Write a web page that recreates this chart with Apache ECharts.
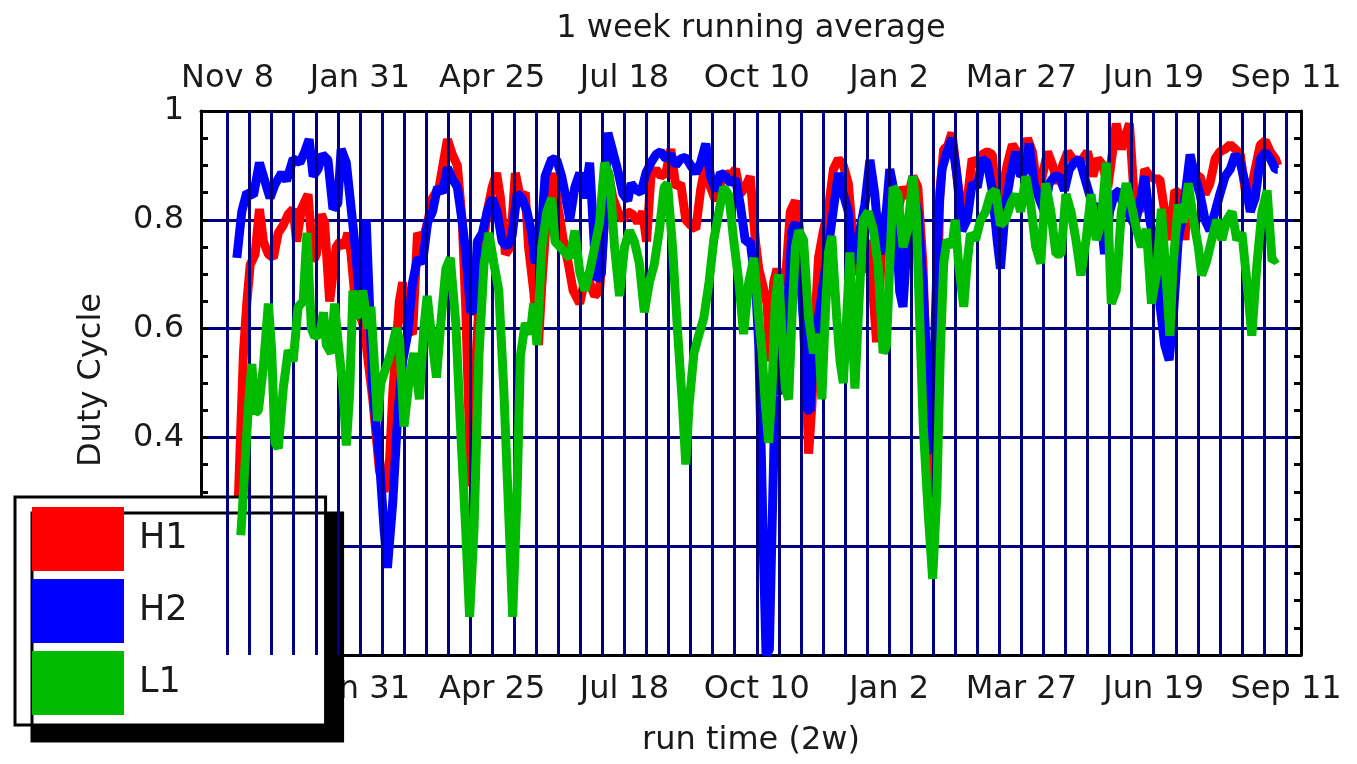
<!DOCTYPE html>
<html>
<head>
<meta charset="utf-8">
<script src="https://cdn.jsdelivr.net/npm/echarts@6/dist/echarts.min.js"></script>
<style>
  html, body { margin: 0; padding: 0; background: #fff; }
  #main { width: 1357px; height: 764px; }
</style>
</head>
<body>
<div id="main"></div>
<script>
// run time in weeks from Nov 8, duty cycle 0..1
const tickWeeks = [0, 12, 24, 36, 48, 60, 72, 84, 96];
const tickLabels = ['Nov 8', 'Jan 31', 'Apr 25', 'Jul 18', 'Oct 10', 'Jan 2', 'Mar 27', 'Jun 19', 'Sep 11'];
const gridWeeks = [0, 2, 4, 6, 8, 10, 12, 14, 16, 18, 20, 22, 24, 26, 28, 30, 32, 34, 36, 38, 40, 42, 44, 46, 48,
    50, 52, 54, 56, 58, 60, 62, 64, 66, 68, 70, 72, 74, 76, 78, 80, 82, 84, 86, 88, 90, 92, 94, 96];

const h1Points = [
    [0.8, 0.22], [1.0, 0.3], [1.44, 0.555], [1.74, 0.646], [2.05, 0.717], [2.5, 0.737], [2.89, 0.82], [3.25, 0.76],
    [3.7, 0.737], [4.15, 0.73], [4.6, 0.776], [5.05, 0.79], [5.5, 0.81], [5.95, 0.82], [6.26, 0.76], [6.7, 0.82],
    [7.3, 0.847], [7.76, 0.724], [8.06, 0.737], [8.5, 0.81], [8.8, 0.795], [9.26, 0.65], [9.56, 0.7], [9.86, 0.75],
    [10.17, 0.76], [10.6, 0.75], [10.9, 0.776], [11.2, 0.737], [11.67, 0.63], [12.1, 0.62], [12.4, 0.6], [13.17, 0.47],
    [13.77, 0.34], [14.2, 0.3], [14.7, 0.36], [14.98, 0.48], [15.58, 0.65], [15.88, 0.685], [16.33, 0.6], [16.78, 0.59],
    [17.23, 0.776], [17.68, 0.76], [18.14, 0.795], [18.59, 0.84], [19.19, 0.86], [19.94, 0.948], [20.39, 0.92], [20.84, 0.9],
    [21.29, 0.795], [21.6, 0.64], [21.9, 0.43], [22.05, 0.31], [22.26, 0.43], [22.65, 0.59], [23.1, 0.74], [23.55, 0.815],
    [24.0, 0.86], [24.4, 0.886], [24.75, 0.84], [25.2, 0.737], [25.65, 0.75], [26.1, 0.886], [26.56, 0.84], [27.0, 0.85],
    [27.3, 0.75], [27.76, 0.67], [28.2, 0.57], [28.5, 0.68], [28.96, 0.815], [29.56, 0.886], [30.0, 0.82], [30.47, 0.76],
    [30.9, 0.72], [31.34, 0.67], [31.94, 0.646], [32.4, 0.69], [32.84, 0.685], [33.3, 0.66], [33.74, 0.67], [34.05, 0.76],
    [34.5, 0.89], [34.95, 0.84], [35.4, 0.815], [35.85, 0.8], [36.3, 0.815], [36.75, 0.81], [37.2, 0.795], [37.65, 0.815],
    [38.0, 0.76], [38.4, 0.88], [38.86, 0.893], [39.3, 0.88], [39.76, 0.886], [40.2, 0.93], [40.66, 0.86], [41.1, 0.867],
    [41.56, 0.8], [42.0, 0.79], [42.47, 0.783], [42.9, 0.854], [43.37, 0.905], [43.8, 0.86], [44.27, 0.835], [44.7, 0.867],
    [45.17, 0.886], [45.6, 0.88], [46.07, 0.893], [46.5, 0.848], [46.97, 0.86], [47.4, 0.88], [47.88, 0.76], [48.18, 0.71],
    [48.48, 0.685], [48.93, 0.646], [49.23, 0.54], [49.53, 0.685], [49.83, 0.71], [50.14, 0.685], [50.59, 0.685], [51.04, 0.815],
    [51.5, 0.835], [51.8, 0.795], [52.1, 0.737], [52.4, 0.555], [52.7, 0.37], [53.0, 0.46], [53.3, 0.62], [53.6, 0.73],
    [54.04, 0.78], [54.5, 0.82], [54.95, 0.893], [55.4, 0.912], [55.85, 0.9], [56.3, 0.867], [56.6, 0.795], [56.9, 0.737],
    [57.2, 0.7], [57.68, 0.71], [58.1, 0.763], [58.56, 0.66], [58.86, 0.575], [59.16, 0.68], [59.46, 0.8], [59.9, 0.82],
    [60.36, 0.86], [60.8, 0.815], [61.26, 0.86], [61.7, 0.84], [62.16, 0.88], [62.6, 0.86], [63.07, 0.72], [63.5, 0.45],
    [63.9, 0.29], [64.3, 0.55], [64.6, 0.85], [64.95, 0.93], [65.3, 0.935], [65.7, 0.96], [66.16, 0.88], [66.6, 0.815],
    [67.08, 0.835], [67.53, 0.912], [68.0, 0.9], [68.44, 0.92], [68.9, 0.925], [69.36, 0.92], [69.8, 0.815], [70.27, 0.854],
    [70.7, 0.9], [71.18, 0.938], [71.6, 0.925], [72.1, 0.88], [72.55, 0.95], [73.0, 0.925], [73.46, 0.854], [73.9, 0.88],
    [74.37, 0.925], [74.83, 0.9], [75.28, 0.867], [75.74, 0.9], [76.2, 0.925], [76.65, 0.912], [77.1, 0.905], [77.56, 0.912],
    [78.0, 0.925], [78.47, 0.88], [78.93, 0.912], [79.4, 0.9], [79.84, 0.86], [80.3, 0.93], [80.6, 0.977], [81.06, 0.93],
    [81.5, 0.958], [81.8, 0.977], [82.27, 0.828], [82.73, 0.815], [83.19, 0.893], [83.64, 0.88], [84.1, 0.875], [84.55, 0.875],
    [85.0, 0.815], [85.47, 0.763], [85.92, 0.854], [86.38, 0.847], [86.83, 0.763], [87.3, 0.9], [87.74, 0.88], [88.2, 0.88],
    [88.66, 0.847], [89.1, 0.867], [89.57, 0.912], [90.0, 0.925], [90.48, 0.93], [90.94, 0.938], [91.4, 0.93], [91.85, 0.92],
    [92.3, 0.854], [92.76, 0.847], [93.2, 0.893], [93.67, 0.938], [94.13, 0.945], [94.58, 0.925], [95.04, 0.912], [95.25, 0.9]
];

const h2Points = [
    [0.84, 0.73], [1.29, 0.815], [1.74, 0.85], [2.35, 0.845], [2.89, 0.905], [3.4, 0.87], [3.85, 0.84], [4.3, 0.865],
    [4.9, 0.886], [5.35, 0.872], [5.95, 0.912], [6.56, 0.905], [7.0, 0.925], [7.4, 0.948], [7.76, 0.88], [8.2, 0.893],
    [8.6, 0.92], [9.1, 0.91], [9.56, 0.82], [10.0, 0.83], [10.3, 0.93], [10.77, 0.905], [11.37, 0.79], [11.67, 0.73],
    [11.97, 0.65], [12.27, 0.7], [12.57, 0.8], [13.17, 0.49], [13.77, 0.36], [14.2, 0.23], [14.5, 0.16], [14.98, 0.28],
    [15.43, 0.44], [15.88, 0.54], [16.33, 0.59], [16.78, 0.685], [17.23, 0.73], [17.68, 0.72], [18.14, 0.795], [18.59, 0.815],
    [19.04, 0.86], [19.49, 0.85], [19.94, 0.896], [20.39, 0.875], [20.84, 0.86], [21.29, 0.795], [21.6, 0.74], [22.05, 0.63],
    [22.35, 0.635], [22.65, 0.76], [23.1, 0.775], [23.55, 0.815], [24.0, 0.84], [24.45, 0.815], [24.9, 0.76], [25.35, 0.75],
    [25.8, 0.77], [26.26, 0.848], [26.7, 0.84], [27.16, 0.815], [27.6, 0.775], [27.9, 0.72], [28.36, 0.75], [28.8, 0.88],
    [29.4, 0.912], [29.86, 0.91], [30.3, 0.88], [30.6, 0.85], [31.04, 0.8], [31.5, 0.86], [31.94, 0.886], [32.4, 0.84],
    [32.84, 0.905], [33.44, 0.69], [33.9, 0.7], [34.2, 0.81], [34.5, 0.96], [34.95, 0.925], [35.4, 0.89], [35.85, 0.848],
    [36.3, 0.835], [36.6, 0.867], [37.05, 0.855], [37.5, 0.85], [37.95, 0.886], [38.4, 0.905], [38.86, 0.92], [39.3, 0.925],
    [39.76, 0.912], [40.2, 0.92], [40.66, 0.9], [41.1, 0.912], [41.56, 0.915], [42.0, 0.9], [42.47, 0.886], [42.9, 0.905],
    [43.37, 0.94], [43.8, 0.88], [44.27, 0.853], [44.7, 0.886], [45.17, 0.88], [45.6, 0.867], [46.07, 0.875], [46.5, 0.828],
    [46.97, 0.76], [47.4, 0.76], [47.88, 0.685], [48.18, 0.57], [48.42, 0.36], [48.63, 0.166], [48.84, 0.0], [49.14, 0.01],
    [49.38, 0.23], [49.68, 0.49], [49.98, 0.48], [50.29, 0.555], [50.74, 0.62], [51.19, 0.78], [51.5, 0.795], [51.8, 0.75],
    [52.24, 0.61], [52.54, 0.45], [52.84, 0.45], [53.14, 0.555], [53.6, 0.62], [54.04, 0.685], [54.5, 0.75], [54.95, 0.82],
    [55.4, 0.886], [55.85, 0.848], [56.3, 0.815], [56.6, 0.737], [56.9, 0.72], [57.35, 0.78], [57.8, 0.828], [58.26, 0.91],
    [58.7, 0.848], [59.16, 0.737], [59.6, 0.78], [60.06, 0.893], [60.5, 0.848], [60.96, 0.668], [61.26, 0.64], [61.7, 0.78],
    [62.16, 0.85], [62.6, 0.815], [63.07, 0.685], [63.5, 0.5], [63.9, 0.37], [64.2, 0.62], [64.5, 0.815], [64.8, 0.893],
    [65.25, 0.925], [65.7, 0.95], [66.16, 0.88], [66.6, 0.78], [67.08, 0.8], [67.53, 0.867], [68.0, 0.86], [68.44, 0.912],
    [68.9, 0.905], [69.36, 0.854], [69.8, 0.763], [70.1, 0.71], [70.57, 0.828], [71.0, 0.88], [71.48, 0.925], [71.94, 0.88],
    [72.4, 0.893], [72.7, 0.94], [73.15, 0.867], [73.6, 0.84], [74.07, 0.815], [74.52, 0.867], [75.0, 0.88], [75.43, 0.88],
    [75.9, 0.854], [76.35, 0.893], [76.8, 0.905], [77.26, 0.912], [77.7, 0.88], [78.17, 0.847], [78.63, 0.815], [79.1, 0.828],
    [79.54, 0.737], [80.0, 0.815], [80.45, 0.847], [80.9, 0.854], [81.36, 0.815], [81.8, 0.808], [82.27, 0.79], [82.73, 0.828],
    [83.19, 0.88], [83.64, 0.8], [84.1, 0.75], [84.55, 0.646], [85.0, 0.57], [85.4, 0.542], [85.77, 0.62], [86.22, 0.763],
    [86.68, 0.815], [87.3, 0.92], [87.74, 0.88], [88.2, 0.847], [88.66, 0.8], [89.1, 0.78], [89.57, 0.815], [90.0, 0.847],
    [90.48, 0.88], [90.94, 0.893], [91.4, 0.92], [91.85, 0.905], [92.3, 0.867], [92.76, 0.815], [93.2, 0.84], [93.67, 0.912],
    [94.13, 0.925], [94.58, 0.912], [95.04, 0.893], [95.25, 0.893]
];

const l1Points = [
    [1.2, 0.22], [1.38, 0.28], [1.9, 0.46], [2.2, 0.535], [2.5, 0.445], [2.8, 0.45], [3.25, 0.53], [3.7, 0.646],
    [4.0, 0.56], [4.3, 0.39], [4.6, 0.38], [5.05, 0.49], [5.5, 0.56], [5.95, 0.54], [6.4, 0.64], [6.86, 0.65],
    [7.2, 0.776], [7.6, 0.6], [7.9, 0.585], [8.36, 0.59], [8.7, 0.63], [8.96, 0.57], [9.4, 0.555], [9.7, 0.646],
    [10.0, 0.58], [10.47, 0.49], [10.77, 0.385], [11.07, 0.48], [11.37, 0.67], [11.67, 0.62], [11.97, 0.635], [12.27, 0.67],
    [12.72, 0.6], [13.0, 0.64], [13.3, 0.54], [13.6, 0.43], [13.9, 0.5], [14.4, 0.53], [14.8, 0.555], [15.3, 0.6],
    [15.6, 0.58], [16.0, 0.42], [16.5, 0.51], [16.9, 0.555], [17.4, 0.47], [17.8, 0.6], [18.1, 0.66], [18.6, 0.57],
    [18.95, 0.51], [19.3, 0.6], [19.8, 0.71], [20.2, 0.73], [20.7, 0.61], [21.1, 0.43], [21.6, 0.23], [21.95, 0.07],
    [22.35, 0.23], [22.8, 0.55], [23.25, 0.717], [23.7, 0.776], [24.15, 0.72], [24.6, 0.67], [25.05, 0.49], [25.5, 0.26],
    [25.86, 0.07], [26.26, 0.3], [26.56, 0.55], [27.0, 0.61], [27.46, 0.59], [27.76, 0.646], [28.06, 0.57], [28.5, 0.75],
    [28.96, 0.815], [29.4, 0.84], [29.7, 0.76], [30.16, 0.75], [30.6, 0.74], [31.04, 0.73], [31.5, 0.78], [31.94, 0.705],
    [32.4, 0.67], [32.84, 0.705], [33.3, 0.75], [33.74, 0.795], [34.2, 0.905], [34.65, 0.88], [35.1, 0.75], [35.55, 0.66],
    [36.0, 0.75], [36.45, 0.78], [36.9, 0.76], [37.35, 0.72], [37.8, 0.63], [38.26, 0.685], [38.7, 0.718], [39.16, 0.78],
    [39.6, 0.86], [39.9, 0.867], [40.36, 0.75], [40.8, 0.6], [41.26, 0.46], [41.56, 0.35], [41.86, 0.46], [42.3, 0.555],
    [42.77, 0.59], [43.2, 0.62], [43.67, 0.685], [44.1, 0.763], [44.57, 0.815], [45.0, 0.86], [45.47, 0.845], [45.9, 0.763],
    [46.38, 0.685], [46.8, 0.59], [47.27, 0.685], [47.73, 0.73], [48.18, 0.62], [48.48, 0.555], [48.78, 0.46], [49.08, 0.39],
    [49.38, 0.49], [49.68, 0.65], [49.98, 0.7], [50.29, 0.59], [50.59, 0.49], [50.89, 0.47], [51.19, 0.62], [51.5, 0.75],
    [51.8, 0.78], [52.24, 0.763], [52.7, 0.62], [53.14, 0.555], [53.6, 0.59], [53.9, 0.47], [54.2, 0.62], [54.5, 0.74],
    [54.8, 0.77], [55.25, 0.62], [55.55, 0.54], [55.85, 0.5], [56.15, 0.62], [56.45, 0.74], [56.75, 0.555], [56.9, 0.49],
    [57.2, 0.62], [57.65, 0.8], [58.1, 0.815], [58.56, 0.783], [59.0, 0.718], [59.46, 0.555], [59.76, 0.568], [60.06, 0.718],
    [60.36, 0.86], [60.8, 0.847], [61.26, 0.75], [61.7, 0.783], [62.16, 0.88], [62.46, 0.815], [62.77, 0.62], [63.1, 0.42],
    [63.55, 0.26], [63.95, 0.14], [64.34, 0.3], [64.64, 0.55], [64.95, 0.72], [65.25, 0.763], [65.7, 0.75], [66.0, 0.8],
    [66.3, 0.72], [66.77, 0.64], [67.08, 0.72], [67.38, 0.775], [67.84, 0.763], [68.3, 0.8], [68.75, 0.815], [69.2, 0.847],
    [69.66, 0.854], [70.1, 0.79], [70.57, 0.8], [71.0, 0.828], [71.48, 0.847], [71.94, 0.815], [72.4, 0.88], [72.85, 0.828],
    [73.3, 0.75], [73.76, 0.72], [74.2, 0.867], [74.67, 0.815], [75.13, 0.737], [75.6, 0.737], [76.04, 0.847], [76.5, 0.815],
    [76.95, 0.763], [77.4, 0.698], [77.87, 0.763], [78.32, 0.847], [78.78, 0.763], [79.23, 0.795], [79.7, 0.905], [80.15, 0.646],
    [80.6, 0.67], [81.06, 0.815], [81.5, 0.867], [81.97, 0.828], [82.43, 0.783], [82.88, 0.75], [83.34, 0.783], [83.8, 0.646],
    [84.25, 0.7], [84.7, 0.82], [85.16, 0.685], [85.47, 0.587], [85.77, 0.72], [86.22, 0.828], [86.68, 0.795], [87.14, 0.867],
    [87.6, 0.8], [88.05, 0.75], [88.35, 0.698], [88.8, 0.724], [89.26, 0.763], [89.72, 0.8], [90.18, 0.763], [90.63, 0.8],
    [91.1, 0.815], [91.54, 0.763], [92.0, 0.776], [92.46, 0.685], [92.9, 0.587], [93.37, 0.72], [93.82, 0.815], [94.28, 0.854],
    [94.74, 0.724], [95.2, 0.73]
];

const FONT = 'DejaVu Sans';
const TEXT = '#1a1a1a';
const NAVY = '#000080';

function timeAxis(position, margin) {
    return {
        type: 'value',
        position: position,
        min: -2.41,
        max: 97.36,
        axisLine: { show: true, onZero: false, lineStyle: { color: '#000', width: 3 } },
        axisTick: { show: true, inside: true, length: 7, customValues: tickWeeks, lineStyle: { color: '#000', width: 3 } },
        axisLabel: {
            customValues: tickWeeks,
            interval: 0,
            margin: margin,
            fontFamily: FONT, fontSize: 32, color: TEXT,
            formatter: function (v) { return tickLabels[tickWeeks.indexOf(v)]; }
        },
        splitLine: { show: false }
    };
}

function dutyAxis(position, withLabels) {
    return {
        type: 'value',
        position: position,
        min: 0,
        max: 1,
        interval: 0.2,
        axisLine: { show: true, onZero: false, lineStyle: { color: '#000', width: 3 } },
        axisTick: { show: true, inside: true, length: 7, lineStyle: { color: '#000', width: 3 } },
        minorTick: { show: true, splitNumber: 4, length: 7, lineStyle: { color: '#000', width: 3 } },
        axisLabel: { show: withLabels, margin: 17, fontFamily: FONT, fontSize: 32, color: TEXT },
        splitLine: { show: withLabels, lineStyle: { color: NAVY, width: 3 } }
    };
}

const chart = echarts.init(document.getElementById('main'));
chart.setOption({
    animation: false,
    backgroundColor: '#fff',
    grid: { left: 201, right: 56, top: 111, bottom: 109, containLabel: false },
    xAxis: [timeAxis('bottom', 19), timeAxis('top', 16)],
    yAxis: [dutyAxis('left', true), dutyAxis('right', false)],
    legend: {
        data: ['H1', 'H2', 'L1'],
        orient: 'vertical',
        left: 15,
        top: 497,
        padding: [10, 138, 10, 17],
        itemWidth: 92,
        itemHeight: 64,
        itemGap: 8,
        icon: 'rect',
        selectedMode: false,
        backgroundColor: '#fff',
        borderColor: '#000',
        borderWidth: 3,
        borderRadius: 0,
        shadowColor: '#000',
        shadowBlur: 0,
        shadowOffsetX: 17,
        shadowOffsetY: 16,
        textStyle: { fontFamily: FONT, fontSize: 35, color: TEXT, padding: [0, 0, 0, 10] }
    },
    graphic: [
        { type: 'text', style: { text: '1 week running average', x: 751, y: 29, font: '32px "DejaVu Sans"', fill: TEXT,
            align: 'center', verticalAlign: 'middle', textAlign: 'center', textVerticalAlign: 'middle' } },
        { type: 'text', style: { text: 'run time (2w)', x: 751, y: 741, font: '32px "DejaVu Sans"', fill: TEXT,
            align: 'center', verticalAlign: 'middle', textAlign: 'center', textVerticalAlign: 'middle' } },
        { type: 'text', x: 92, y: 380, rotation: Math.PI / 2,
            style: { text: 'Duty Cycle', x: 0, y: 0, font: '32px "DejaVu Sans"', fill: TEXT,
                align: 'center', verticalAlign: 'middle', textAlign: 'center', textVerticalAlign: 'middle' } }
    ],
    series: [
        {
            name: 'weeks',
            type: 'line',
            data: [[0, -1]],
            showSymbol: false,
            silent: true,
            z: 1,
            lineStyle: { opacity: 0 },
            markLine: {
                silent: true,
                symbol: 'none',
                label: { show: false },
                lineStyle: { color: NAVY, width: 3, type: 'solid' },
                data: gridWeeks.map(function (w) { return { xAxis: w }; })
            }
        },
        { name: 'H1', type: 'line', data: h1Points, color: '#ff0000', showSymbol: false, z: 3,
            lineStyle: { color: '#ff0000', width: 9 } },
        { name: 'H2', type: 'line', data: h2Points, color: '#0000ff', showSymbol: false, z: 4,
            lineStyle: { color: '#0000ff', width: 9 } },
        { name: 'L1', type: 'line', data: l1Points, color: '#00bb00', showSymbol: false, z: 5,
            lineStyle: { color: '#00bb00', width: 9 } }
    ]
});
</script>
</body>
</html>
